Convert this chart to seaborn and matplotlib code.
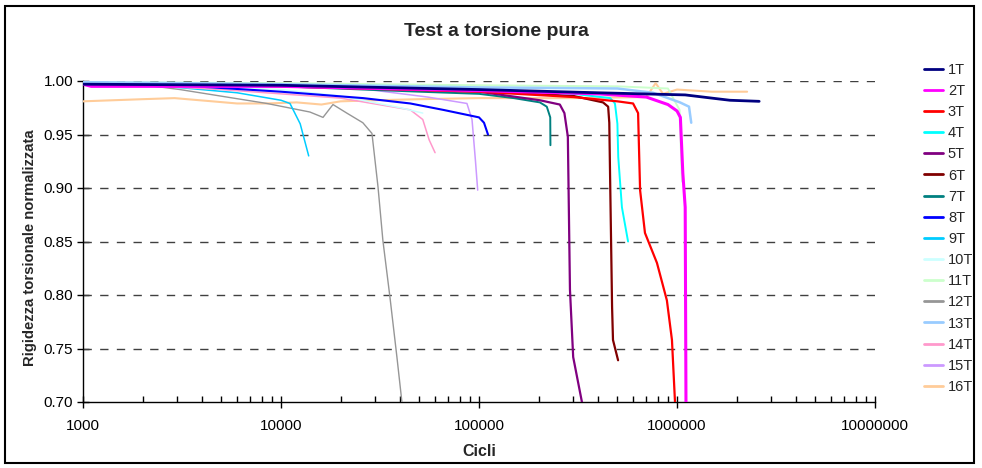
import matplotlib
matplotlib.use("Agg")
import matplotlib.pyplot as plt
import matplotlib.ticker as mticker
from matplotlib.lines import Line2D
from matplotlib.patches import Rectangle
import pandas as pd
import seaborn as sns

sns.set_theme(style="white")
plt.rcParams["font.family"] = ["Liberation Sans", "DejaVu Sans"]

title = "Test a torsione pura"
x_label = "Cicli"
y_label = "Rigidezza torsionale normalizzata"

# Cycles (x) and normalised torsional stiffness (y) for each specimen
c_1T = [1000, 10000, 100000, 400000, 1100000, 1500000, 1850000, 2600000]
v_1T = [0.997, 0.996, 0.992, 0.989, 0.987, 0.984, 0.982, 0.981]

c_2T = [1000, 1100, 10000, 100000, 400000, 700000, 900000, 1000000, 1040000, 1070000, 1100000, 1110000]
v_2T = [0.997, 0.995, 0.995, 0.991, 0.988, 0.985, 0.978, 0.972, 0.966, 0.914, 0.882, 0.700]

c_3T = [1000, 10000, 100000, 300000, 500000, 600000, 636000, 651000, 689000, 792000, 889000, 943000, 977000]
v_3T = [0.998, 0.995, 0.990, 0.985, 0.981, 0.979, 0.970, 0.898, 0.858, 0.830, 0.795, 0.758, 0.700]

c_4T = [1000, 10000, 100000, 300000, 460000, 486000, 500000, 505000, 527000, 566000]
v_4T = [0.998, 0.996, 0.992, 0.988, 0.984, 0.979, 0.960, 0.929, 0.882, 0.850]

c_5T = [1000, 10000, 100000, 203000, 256000, 270000, 281000, 283000, 288000, 299000, 331000]
v_5T = [0.998, 0.996, 0.990, 0.982, 0.978, 0.970, 0.948, 0.907, 0.805, 0.742, 0.700]

c_6T = [1000, 10000, 100000, 300000, 423000, 449000, 455000, 459000, 470000, 475000, 504000]
v_6T = [0.998, 0.996, 0.991, 0.986, 0.980, 0.976, 0.961, 0.914, 0.789, 0.758, 0.739]

c_7T = [1000, 10000, 50000, 100000, 150000, 203000, 220000, 229000, 229500]
v_7T = [0.998, 0.995, 0.990, 0.988, 0.984, 0.980, 0.976, 0.966, 0.940]

c_8T = [1000, 3000, 10000, 26000, 45000, 66000, 100000, 106000, 111000]
v_8T = [0.998, 0.996, 0.990, 0.984, 0.979, 0.973, 0.966, 0.961, 0.950]

c_9T = [1000, 3000, 6000, 10000, 11100, 12500, 13800]
v_9T = [0.998, 0.994, 0.989, 0.982, 0.979, 0.960, 0.930]

c_10T = [1000, 10000, 20000, 40000, 52000]
v_10T = [0.998, 0.992, 0.986, 0.975, 0.970]

c_11T = [1000, 10000, 100000, 500000, 900000, 1030000, 1060000]
v_11T = [0.999, 0.998, 0.996, 0.995, 0.993, 0.973, 0.906]

c_12T = [1000, 2100, 3090, 8490, 14000, 16300, 18300, 21500, 25900, 28800, 30900, 32700, 35500, 38500, 40800]
v_12T = [0.998, 0.996, 0.992, 0.979, 0.971, 0.966, 0.978, 0.970, 0.961, 0.951, 0.901, 0.851, 0.798, 0.742, 0.700]

c_13T = [1000, 10000, 100000, 500000, 757000, 1035000, 1150000, 1180000]
v_13T = [0.999, 0.997, 0.994, 0.993, 0.989, 0.980, 0.976, 0.961]

c_14T = [1000, 2000, 5000, 20000, 45000, 52000, 56000, 60000]
v_14T = [0.998, 0.996, 0.992, 0.984, 0.973, 0.964, 0.945, 0.933]

c_15T = [1000, 10000, 25000, 55000, 86900, 92200, 96000, 98500]
v_15T = [0.998, 0.996, 0.993, 0.985, 0.979, 0.964, 0.925, 0.898]

c_16T = [1000, 2000, 2900, 4500, 6000, 8500, 12000, 16000, 20000, 30000, 50000, 100000,
         300000, 700000, 780000, 850000, 1000000, 1500000, 2260000]
v_16T = [0.981, 0.983, 0.984, 0.981, 0.979, 0.979, 0.980, 0.978, 0.981, 0.982, 0.983, 0.984,
         0.984, 0.985, 0.998, 0.988, 0.992, 0.990, 0.990]

series = {
    "1T": (c_1T, v_1T), "2T": (c_2T, v_2T), "3T": (c_3T, v_3T), "4T": (c_4T, v_4T),
    "5T": (c_5T, v_5T), "6T": (c_6T, v_6T), "7T": (c_7T, v_7T), "8T": (c_8T, v_8T),
    "9T": (c_9T, v_9T), "10T": (c_10T, v_10T), "11T": (c_11T, v_11T), "12T": (c_12T, v_12T),
    "13T": (c_13T, v_13T), "14T": (c_14T, v_14T), "15T": (c_15T, v_15T), "16T": (c_16T, v_16T),
}

colors = {
    "1T": "#000080", "2T": "#FF00FF", "3T": "#FF0000", "4T": "#00FFFF",
    "5T": "#800080", "6T": "#800000", "7T": "#008080", "8T": "#0000FF",
    "9T": "#00CCFF", "10T": "#CCFFFF", "11T": "#CCFFCC", "12T": "#969696",
    "13T": "#99CCFF", "14T": "#FF99CC", "15T": "#CC99FF", "16T": "#FFCC99",
}
widths = {"1T": 2.0, "2T": 2.2, "3T": 1.6, "4T": 1.4, "5T": 1.6, "6T": 1.6, "7T": 1.4,
          "8T": 1.5, "9T": 1.1, "10T": 1.1, "11T": 1.4, "12T": 1.0, "13T": 1.8,
          "14T": 1.1, "15T": 1.1, "16T": 1.5}

frames = []
for name, (cyc, val) in series.items():
    frames.append(pd.DataFrame({"Cicli": cyc, "Rigidezza": val, "Provino": name}))
df = pd.concat(frames, ignore_index=True)

fig = plt.figure(figsize=(9.82, 4.68), dpi=100)
ax = fig.add_axes([83 / 982, 1 - 402 / 468, (875 - 83) / 982, (402 - 81) / 468])

# gridlines first so curves sit above them
for yv in [0.75, 0.80, 0.85, 0.90, 0.95, 1.00]:
    ax.axhline(yv, color="#404040", lw=1.0, ls=(0, (6, 6)), zorder=1)

draw_order = ["16T", "12T", "9T", "14T", "10T", "15T", "8T", "7T", "5T", "6T",
              "4T", "3T", "11T", "2T", "13T", "1T"]
for name in draw_order:
    sub = df[df["Provino"] == name]
    sns.lineplot(data=sub, x="Cicli", y="Rigidezza", ax=ax, color=colors[name],
                 lw=widths[name], sort=False, estimator=None, legend=False, zorder=3)

ax.set_xscale("log")
ax.set_xlim(1000, 10000000)
ax.set_ylim(0.70, 1.00)
ax.set_yticks([0.70, 0.75, 0.80, 0.85, 0.90, 0.95, 1.00])
ax.yaxis.set_major_formatter(mticker.FormatStrFormatter("%.2f"))
ax.xaxis.set_major_locator(mticker.LogLocator(base=10, numticks=10))
ax.xaxis.set_major_formatter(mticker.FuncFormatter(lambda v, p: f"{int(round(v))}"))
ax.xaxis.set_minor_locator(mticker.LogLocator(base=10, subs=range(2, 10), numticks=100))
ax.xaxis.set_minor_formatter(mticker.NullFormatter())

for side in ["top", "right"]:
    ax.spines[side].set_visible(False)
for side in ["left", "bottom"]:
    ax.spines[side].set_color("black")
    ax.spines[side].set_linewidth(1.0)

ax.tick_params(axis="y", which="major", direction="inout", length=8, width=1,
               colors="black", labelsize=11, left=True, pad=3)
ax.tick_params(axis="x", which="major", direction="inout", length=8, width=1,
               colors="black", labelsize=11, bottom=True, pad=8)
ax.tick_params(axis="x", which="minor", direction="in", length=4, width=1,
               colors="black", bottom=True)

ax.set_xlabel(x_label, fontsize=11.5, fontweight="bold", labelpad=8)
ax.set_ylabel(y_label, fontsize=10.7, fontweight="bold")
ax.yaxis.set_label_coords(-46 / 792, 0.48)
fig.text(496 / 982, 1 - 32 / 468, title, fontsize=14, fontweight="bold", ha="center", va="center")

handles = [Line2D([0], [0], color=colors[n], lw=2) for n in series]
fig.legend(handles, list(series.keys()), loc="upper left",
           bbox_to_anchor=(918 / 982, 1 - 57 / 468), frameon=False, fontsize=10.5,
           handlelength=1.3, handletextpad=0.35, labelspacing=0.49, borderaxespad=0)

fig.patches.append(Rectangle((5 / 982, 5 / 468), 969 / 982, 457 / 468, transform=fig.transFigure,
                             fill=False, edgecolor="black", lw=1.5))

fig.savefig("out.png", dpi=100, facecolor="white")
